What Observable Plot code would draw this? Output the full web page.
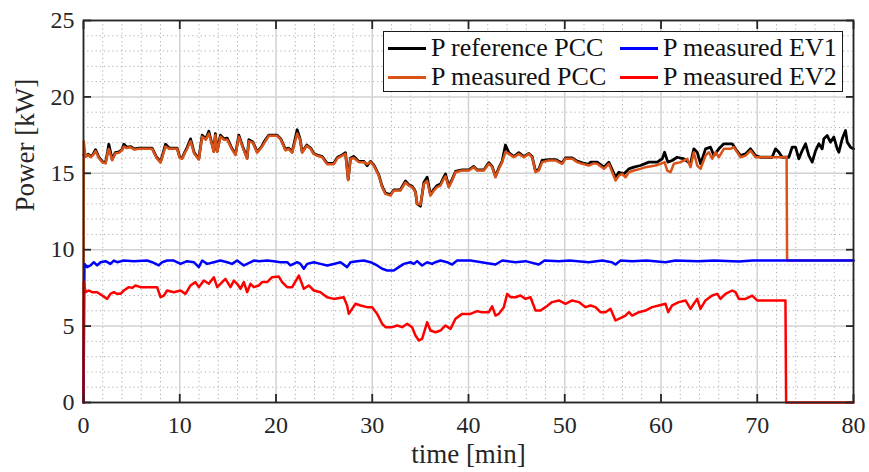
<!DOCTYPE html>
<html>
<head>
<meta charset="utf-8">
<script src="https://cdn.jsdelivr.net/npm/d3@7"></script>
<script src="https://cdn.jsdelivr.net/npm/@observablehq/plot@0.6"></script>
<style>
  body { margin: 0; background: #fff; }
  #wrap { position: relative; width: 869px; height: 472px; }
  #legend { position: absolute; left: 383px; top: 31px; width: 458px; height: 59px;
    border: 1.6px solid #1a1a1a; background: #fff; font-family: "Liberation Serif", "Times New Roman", Times, "DejaVu Serif", serif; font-size: 26px; color: #111; }
  .item { position: absolute; display: flex; align-items: center; height: 30px; white-space: nowrap; }
  .sw { width: 38px; height: 3px; margin-right: 5px; }
</style>
</head>
<body>
<div id="wrap"></div>
<script>
// ---------- data ----------
const xTicks = [0, 10, 20, 30, 40, 50, 60, 70, 80];
const yTicks = [0, 5, 10, 15, 20, 25];
const xMinor = [2, 4, 6, 8, 12, 14, 16, 18, 22, 24, 26, 28, 32, 34, 36, 38, 42, 44, 46, 48, 52, 54, 56, 58, 62, 64, 66, 68, 72, 74, 76, 78];
const yMinor = [1, 2, 3, 4, 6, 7, 8, 9, 11, 12, 13, 14, 16, 17, 18, 19, 21, 22, 23, 24];
const xLabel = "time [min]";
const yLabel = "Power [kW]";
const seriesNames = ["P reference PCC", "P measured PCC", "P measured EV1", "P measured EV2"];
const seriesColors = ["#000000", "#D95319", "#0000FF", "#FF0000"];

// [time (min), power (kW)]
const refPCC = [
[0.03,16.2],[0.2,16.1],[0.5,16.25],[0.73,16.1],[1.0,16.25],[1.25,16.55],[1.6,16.05],[2.0,15.75],[2.29,15.7],[2.5,16.4],[2.63,16.9],[2.98,15.9],[3.3,16.35],[3.67,16.4],[4.0,16.55],[4.19,16.9],[4.5,16.7],[4.88,16.75],[5.3,16.6],[5.75,16.65],[7.13,16.65],[7.6,16.05],[8.0,15.75],[8.3,16.4],[8.52,16.9],[8.9,16.65],[9.73,16.65],[10.0,16.05],[10.25,16.0],[10.5,16.35],[10.77,16.7],[11.12,17.25],[11.5,16.35],[11.98,15.95],[12.33,17.5],[12.7,17.25],[13.02,17.75],[13.3,17.05],[13.54,16.45],[13.7,17.6],[13.89,16.45],[14.23,17.5],[14.6,17.25],[14.93,17.3],[15.4,16.65],[15.79,16.25],[16.14,17.5],[16.6,16.65],[17.0,16.0],[17.18,17.2],[17.6,17.05],[18.04,16.4],[18.5,16.75],[18.8,17.1],[19.25,17.5],[20.12,17.5],[20.5,17.25],[20.99,16.55],[21.3,16.65],[21.68,16.4],[22.2,17.85],[22.5,17.25],[22.72,16.4],[23.2,16.85],[23.6,16.65],[23.93,16.3],[24.3,16.2],[24.8,16.1],[25.31,15.65],[26.0,15.65],[26.4,16.05],[26.87,16.2],[27.22,16.35],[27.5,14.6],[27.74,16.0],[28.09,16.1],[28.6,15.78],[29.13,15.78],[29.47,15.5],[29.82,15.78],[30.16,15.55],[30.68,14.9],[31.03,14.15],[31.37,13.7],[31.89,13.6],[32.24,13.92],[32.93,13.92],[33.45,14.5],[33.8,14.25],[34.15,14.15],[34.49,13.8],[34.66,13.0],[35.01,12.85],[35.36,14.4],[35.7,14.75],[36.05,13.6],[36.4,13.95],[36.74,14.2],[37.09,14.3],[37.43,14.75],[37.61,14.95],[37.95,14.15],[38.3,14.6],[38.65,15.12],[39.34,15.22],[40.03,15.22],[40.55,15.45],[40.9,15.22],[41.59,15.22],[42.11,15.7],[42.46,15.45],[42.8,14.8],[43.15,15.35],[43.5,15.8],[43.84,16.85],[44.19,16.35],[44.71,16.1],[45.23,16.35],[45.75,16.1],[46.27,16.3],[46.61,16.1],[46.96,15.15],[47.3,15.25],[47.65,15.85],[48.34,15.9],[49.04,15.9],[49.73,15.68],[50.07,16.0],[50.77,16.0],[51.29,15.8],[51.81,15.68],[52.5,15.58],
[52.68,15.73],[53.37,15.73],[54.07,15.4],[54.58,15.73],[55.28,14.74],[55.62,15.07],[56.14,14.96],[56.66,15.29],[57.18,15.4],[57.87,15.51],[58.74,15.73],[59.61,15.73],[60.13,15.95],[60.37,16.38],[60.71,15.73],[61.16,15.84],[61.68,16.05],[62.38,15.95],[63.07,15.62],[63.41,16.6],[63.76,16.38],[64.11,15.62],[64.63,16.6],[65.15,16.71],[65.49,16.16],[66.01,16.6],[66.53,16.93],[67.4,16.93],[67.74,16.6],[68.26,16.16],[68.78,16.27],[69.3,16.6],[69.82,16.16],[70.34,16.05],[71.55,16.05],[71.9,16.6],[72.25,16.38],[72.59,16.05],[73.28,16.05],[73.63,16.71],[73.98,16.71],[74.32,15.95],[74.67,16.49],[75.02,16.93],[75.36,16.16],[75.71,15.73],[76.06,16.49],[76.4,16.93],[76.75,16.6],[76.92,17.26],[77.27,17.47],[77.61,17.04],[77.96,17.37],[78.31,16.6],[78.48,16.38],[78.83,17.26],[79.17,17.8],[79.35,17.04],[79.69,16.71],[80,16.6]
];

const measPCC = [
[0,0],[0.03,17.1],[0.2,16.1],[0.5,16.2],[0.73,16.05],[1.0,16.2],[1.25,16.45],[1.6,16.0],[2.0,15.7],[2.29,15.65],[2.5,16.3],[2.63,16.6],[2.98,15.85],[3.3,16.3],[3.67,16.35],[4.0,16.5],[4.19,16.75],[4.5,16.65],[4.88,16.7],[5.3,16.55],[5.75,16.6],[7.13,16.6],[7.6,16.0],[8.0,15.7],[8.3,16.3],[8.52,16.75],[8.9,16.6],[9.73,16.6],[10.0,16.0],[10.25,15.95],[10.5,16.3],[10.77,16.6],[11.12,17.1],[11.5,16.3],[11.98,15.9],[12.33,17.4],[12.7,17.2],[13.02,17.6],[13.3,17.0],[13.54,16.4],[13.7,17.5],[13.89,16.4],[14.23,17.4],[14.6,17.2],[14.93,17.2],[15.4,16.6],[15.79,16.2],[16.14,17.4],[16.6,16.6],[17.0,15.95],[17.18,17.1],[17.6,17.0],[18.04,16.35],[18.5,16.7],[18.8,17.0],[19.25,17.45],[20.12,17.45],[20.5,17.2],[20.99,16.5],[21.3,16.6],[21.68,16.35],[22.2,17.6],[22.5,17.2],[22.72,16.35],[23.2,16.8],[23.6,16.6],[23.93,16.25],[24.3,16.15],[24.8,16.05],[25.31,15.6],[26.0,15.6],[26.4,15.99],[26.87,16.16],[27.22,16.27],[27.5,14.55],[27.74,15.95],[28.09,16.0],[28.6,15.73],[29.13,15.73],[29.47,15.6],[29.82,15.73],[30.16,15.5],[30.68,14.85],[31.03,14.09],[31.37,13.65],[31.89,13.54],[32.24,13.87],[32.93,13.87],[33.45,14.4],[33.8,14.2],[34.15,14.09],[34.49,13.76],[34.66,13.0],[35.01,12.95],[35.36,14.3],[35.7,14.5],[36.05,13.54],[36.4,13.87],[36.74,14.09],[37.09,14.2],[37.43,14.64],[37.61,14.8],[37.95,14.09],[38.3,14.53],[38.65,15.07],[39.34,15.18],[40.03,15.18],[40.55,15.4],[40.9,15.18],[41.59,15.18],[42.11,15.62],[42.46,15.4],[42.8,14.74],[43.15,15.29],[43.5,15.73],[43.84,16.4],[44.19,16.27],[44.71,16.05],[45.23,16.27],[45.75,16.05],[46.27,16.27],[46.61,16.05],[46.96,15.07],[47.3,15.18],[47.65,15.73],[48.34,15.84],[49.04,15.84],[49.73,15.62],[50.07,15.95],[50.77,15.95],[51.29,15.73],[51.81,15.62],[52.5,15.51],[53.0,15.65],[53.37,15.62],[54.07,15.29],[54.58,15.62],[55.28,14.53],[55.62,14.85],[55.97,14.96],[56.32,14.74],[56.66,15.07],[57.18,15.18],[57.87,15.29],[58.39,15.4],[59.43,15.51],[59.95,15.62],[60.37,15.73],[60.65,15.18],[60.99,15.07],[61.34,15.62],[62.03,15.73],[62.72,15.95],[63.07,15.4],[63.41,16.38],[63.76,15.51],[64.11,15.29],[64.63,16.16],[64.97,16.38],[65.32,15.95],[65.67,16.38],[66.01,16.05],[66.53,16.6],[67.22,16.6],[67.57,16.71],[67.92,16.38],[68.26,16.05],[68.78,16.16],[69.3,16.49],[69.82,16.05],[73.05,16.05],[73.1,9.29],[80,9.29]
];

const measEV1 = [
[0,0],[0.1,9.07],[0.38,8.86],[0.73,8.97],[1.07,9.18],[1.42,8.97],[1.77,9.18],[2.29,9.25],[2.8,9.07],[3.15,9.29],[3.5,9.18],[4.19,9.29],[5.23,9.25],[6.61,9.29],[7.13,9.18],[7.83,8.97],[8.17,9.18],[8.69,9.29],[9.38,9.29],[10.08,9.07],[10.77,9.25],[11.46,9.18],[11.98,8.86],[12.33,9.29],[12.85,9.07],[13.54,9.18],[14.23,9.29],[14.93,9.18],[15.44,9.07],[15.96,9.29],[16.66,8.97],[17.0,9.07],[17.7,9.29],[18.22,9.25],[19.08,9.29],[19.77,9.25],[20.47,9.18],[21.16,9.18],[21.5,8.97],[22.2,9.18],[22.54,9.07],[22.89,8.75],[23.24,9.07],[23.93,9.18],[24.62,9.07],[25.31,8.97],[26.0,9.07],[26.7,9.18],[27.39,8.86],[27.74,9.18],[28.43,9.25],[29.12,9.29],[29.82,9.18],[30.51,8.97],[31.03,8.75],[31.55,8.64],[32.24,8.64],[32.76,8.86],[33.28,9.07],[33.97,9.18],[34.32,9.07],[34.66,9.25],[35.18,8.97],[35.7,9.18],[36.22,9.07],[36.57,9.18],[37.09,9.29],[37.78,9.18],[38.3,9.03],[38.82,9.29],[40.2,9.29],[42.81,9.03],[43.5,9.29],[44.88,9.18],[45.92,9.25],[47.3,9.03],[47.9,9.29],[49.39,9.25],[50.5,9.29],[52.5,9.18],[53.9,9.29],[54.9,9.18],[55.27,9.03],[55.8,9.29],[57.0,9.25],[58.5,9.29],[60.47,9.18],[61.5,9.29],[63.9,9.25],[65.5,9.29],[68.09,9.22],[69.5,9.29],[80,9.29]
];

const measEV2 = [
[0,0],[0.03,7.9],[0.21,7.22],[0.55,7.33],[0.9,7.22],[1.42,7.22],[1.94,7.0],[2.46,6.78],[2.8,7.11],[3.15,7.22],[3.5,7.11],[3.84,7.11],[4.19,7.33],[4.71,7.55],[5.06,7.5],[5.4,7.66],[5.92,7.55],[7.65,7.55],[8.0,6.89],[8.35,7.0],[8.69,7.33],[9.38,7.22],[10.08,7.33],[10.6,7.11],[11.12,7.66],[11.63,7.88],[11.98,7.55],[12.5,7.98],[13.02,7.77],[13.54,8.2],[13.89,7.55],[14.23,7.77],[14.75,8.09],[15.27,7.55],[15.62,7.98],[15.96,7.77],[16.31,7.44],[16.66,7.88],[17.0,7.22],[17.35,7.77],[17.7,7.55],[18.22,7.66],[18.56,7.88],[19.08,7.88],[19.6,8.2],[20.29,8.24],[20.64,7.88],[21.16,7.55],[21.68,7.55],[22.37,8.31],[22.89,7.44],[23.41,7.66],[23.93,7.33],[24.62,7.22],[25.31,6.89],[26.0,6.78],[27.04,6.89],[27.39,6.35],[27.56,5.8],[27.91,6.13],[28.26,6.46],[28.78,6.35],[29.47,6.24],[29.99,6.24],[30.51,5.8],[31.03,5.15],[31.38,4.93],[32.07,4.93],[32.59,5.04],[33.11,4.93],[33.63,5.15],[34.14,4.93],[34.49,4.38],[34.84,4.06],[35.18,4.17],[35.7,5.25],[36.05,4.71],[36.57,4.6],[37.09,4.71],[37.61,5.04],[38.13,4.82],[38.65,5.48],[39.34,5.8],[40.2,5.8],[40.9,5.98],[41.42,5.91],[42.11,5.91],[42.46,6.29],[42.81,5.69],[43.15,5.8],[43.67,6.24],[44.02,7.11],[44.37,6.89],[44.88,6.89],[45.4,7.0],[45.92,6.78],[46.44,6.89],[46.96,6.02],[47.48,6.02],[48.0,6.24],[48.69,6.57],[49.39,6.68],[50.08,6.46],[50.77,6.68],[51.46,6.57],[52.16,6.24],[52.68,6.35],[53.2,6.24],[53.71,5.91],[54.23,5.91],[54.75,6.13],[55.27,5.37],[55.62,5.48],[56.31,5.69],[56.66,5.91],[57.0,5.69],[57.7,5.91],[58.39,6.02],[59.08,6.24],[59.78,6.35],[60.47,6.46],[60.75,5.91],[61.16,6.35],[61.85,6.57],[62.55,6.68],[63.07,6.13],[63.41,6.46],[63.76,6.78],[64.1,6.13],[64.62,6.68],[65.32,7.0],[65.84,7.11],[66.18,6.78],[66.7,7.11],[67.39,7.33],[67.74,7.22],[68.09,6.78],[68.78,6.78],[69.47,7.0],[69.99,6.68],[70.86,6.68],[72.93,6.68],[73.0,0],[80,0]
];

const allSeries = [refPCC, measPCC, measEV1, measEV2];

// ---------- chart ----------
const FONT = "'Liberation Serif', 'Times New Roman', Times, 'DejaVu Serif', serif";
const lineMarks = allSeries.map((s, i) =>
  Plot.line(s, {x: d => d[0], y: d => d[1], stroke: seriesColors[i], strokeWidth: i === 0 ? 2.8 : 2.5, strokeLinejoin: "round"})
);

const chart = Plot.plot({
  width: 869,
  height: 472,
  marginLeft: 83,
  marginRight: 16,
  marginTop: 20,
  marginBottom: 70,
  x: {domain: [0, 80]},
  y: {domain: [0, 25]},
  style: {fontFamily: FONT, fontSize: "23px", background: "#fff", color: "#262626"},
  marks: [
    Plot.gridX(xMinor, {stroke: "#9a9a9a", strokeOpacity: 0.8, strokeDasharray: "1.2,3", strokeWidth: 1}),
    Plot.gridY(yMinor, {stroke: "#9a9a9a", strokeOpacity: 0.8, strokeDasharray: "1.2,3", strokeWidth: 1}),
    Plot.gridX(xTicks, {stroke: "#d2d2d2", strokeOpacity: 1, strokeWidth: 1.5}),
    Plot.gridY(yTicks, {stroke: "#d2d2d2", strokeOpacity: 1, strokeWidth: 1.5}),
    ...lineMarks,
    Plot.frame({stroke: "#262626", strokeWidth: 1.8}),
    Plot.axisX(xTicks, {anchor: "bottom", tickSize: 0, tickPadding: 13, label: null, fill: "#262626", fontFamily: FONT, fontSize: 24}),
    Plot.axisY(yTicks, {anchor: "left", tickSize: 0, tickPadding: 9, label: null, fill: "#262626", fontFamily: FONT, fontSize: 24}),
    Plot.axisX(xTicks, {anchor: "bottom", tickSize: -8, tickFormat: () => "", label: null, strokeWidth: 1.8, stroke: "#262626"}),
    Plot.axisX(xTicks, {anchor: "top", tickSize: -8, tickFormat: () => "", label: null, strokeWidth: 1.8, stroke: "#262626"}),
    Plot.axisY(yTicks, {anchor: "left", tickSize: -8, tickFormat: () => "", label: null, strokeWidth: 1.8, stroke: "#262626"}),
    Plot.axisY(yTicks, {anchor: "right", tickSize: -8, tickFormat: () => "", label: null, strokeWidth: 1.8, stroke: "#262626"}),
    Plot.text([xLabel], {frameAnchor: "bottom", dy: 60, fontSize: 27, fill: "#262626", fontFamily: FONT}),
    Plot.text([yLabel], {frameAnchor: "left", dx: -58, rotate: -90, fontSize: 27, fill: "#262626", fontFamily: FONT})
  ]
});

const wrap = document.getElementById("wrap");
wrap.appendChild(chart);

// legend (inside the plot area, upper right)
const legend = document.createElement("div");
legend.id = "legend";
const positions = [[4, 1], [4, 30], [236, 1], [236, 30]];
seriesNames.forEach((name, i) => {
  const item = document.createElement("div");
  item.className = "item";
  item.style.left = positions[i][0] + "px";
  item.style.top = positions[i][1] + "px";
  const sw = document.createElement("span");
  sw.className = "sw";
  sw.style.background = seriesColors[i];
  const tx = document.createElement("span");
  tx.textContent = name;
  item.appendChild(sw);
  item.appendChild(tx);
  legend.appendChild(item);
});
wrap.appendChild(legend);
</script>
</body>
</html>
